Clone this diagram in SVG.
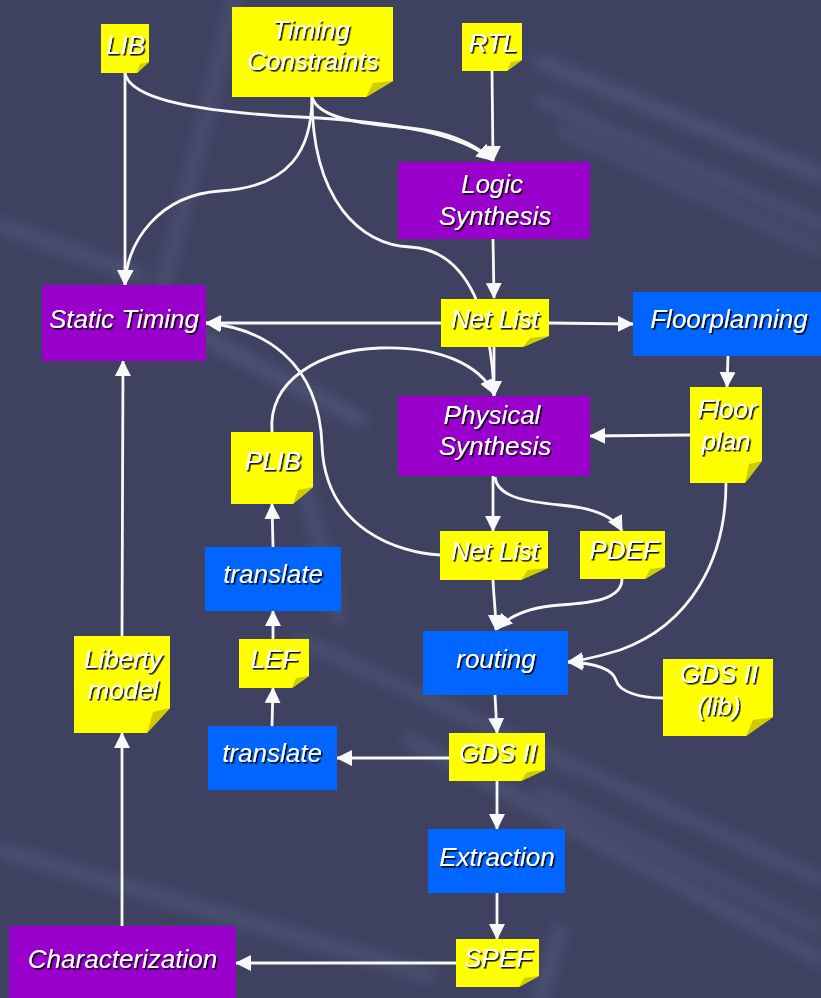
<svg xmlns="http://www.w3.org/2000/svg" width="821" height="998" viewBox="0 0 821 998">
  <defs>
    <marker id="arrow" viewBox="0 0 16 16" refX="15" refY="8" markerWidth="16" markerHeight="16" markerUnits="userSpaceOnUse" orient="auto">
      <path d="M0,0 L16,8 L0,16 z" fill="#f8f8f8"/>
    </marker>
    <filter id="shadow" x="-10%" y="-20%" width="120%" height="140%">
      <feDropShadow dx="1.6" dy="1.6" stdDeviation="0.4" flood-color="#000" flood-opacity="0.9"/>
    </filter>
    <filter id="soft" x="-20%" y="-20%" width="140%" height="140%">
      <feGaussianBlur stdDeviation="7"/>
    </filter>
  </defs>
  <style>
    .purple { fill: #9900cc; }
    .blue { fill: #0066ff; }
    .note { fill: #ffff00; }
    .fold { fill: #cccc00; }
    .label { font-family: "Liberation Sans", Arial, sans-serif; font-style: italic; font-size: 26px; fill: #ffffff; text-anchor: middle; filter: url(#shadow); }
    .edge { fill: none; stroke: #f8f8f8; stroke-width: 2.8; marker-end: url(#arrow); }
    .streak { fill: none; stroke: #8a9ac0; stroke-linecap: round; }
  </style>

  <!-- backdrop -->
  <rect x="0" y="0" width="821" height="998" fill="#3e4160"/>
  <g filter="url(#soft)" opacity="0.2">
    <path class="streak" d="M540,62 L821,175" stroke-width="16"/>
    <path class="streak" d="M540,100 L821,225" stroke-width="12"/>
    <path class="streak" d="M560,130 L821,250" stroke-width="10"/>
    <path class="streak" d="M235,0 L160,300" stroke-width="12"/>
    <path class="streak" d="M0,225 L140,275" stroke-width="14"/>
    <path class="streak" d="M200,335 L360,420" stroke-width="16"/>
    <path class="streak" d="M300,470 L340,620" stroke-width="12"/>
    <path class="streak" d="M0,850 L430,975" stroke-width="14"/>
    <path class="streak" d="M300,640 L821,880" stroke-width="12"/>
    <path class="streak" d="M410,740 L821,960" stroke-width="14"/>
    <path class="streak" d="M540,790 L821,930" stroke-width="10"/>
    <path class="streak" d="M560,930 L540,998" stroke-width="14"/>
  </g>

  <!-- connectors -->
  <g id="connectors">
    <path class="edge" d="M125,73 L125,285"/>
    <path class="edge" d="M125,73 C130,100 200,112 300,117 C400,122 462,135 492,160"/>
    <path class="edge" d="M312,97 C318,118 360,124 410,128 C450,132 476,145 492,160"/>
    <path class="edge" d="M312,97 C312,150 290,187 220,191 C160,195 127,240 125,285"/>
    <path class="edge" d="M312,97 C312,200 360,245 410,247 C470,250 492,320 494,396"/>
    <path class="edge" d="M492,71 L493,161"/>
    <path class="edge" d="M493,239 L494,298"/>
    <path class="edge" d="M441,323 L206,323"/>
    <path class="edge" d="M549,323 L633,324"/>
    <path class="edge" d="M728,356 L727,387"/>
    <path class="edge" d="M690,435 L590,436"/>
    <path class="edge" d="M494,347 L494,396"/>
    <path class="edge" d="M272,432 C268,380 320,350 380,348 C440,346 480,365 494,394"/>
    <path class="edge" d="M440,555 C400,553 325,530 322,445 C319,360 262,328 206,323"/>
    <path class="edge" d="M493,476 L493,531"/>
    <path class="edge" d="M495,477 C497,498 530,502 560,505 C595,508 615,518 622,531"/>
    <path class="edge" d="M493,580 C494,600 496,615 496,630"/>
    <path class="edge" d="M622,579 C622,600 590,603 560,605 C530,607 510,615 497,629"/>
    <path class="edge" d="M726,483 C726,560 690,625 620,650 C600,656 585,660 568,662"/>
    <path class="edge" d="M663,698 C640,698 619,692 616,680 C612,668 592,663 568,662"/>
    <path class="edge" d="M495,695 L497,733"/>
    <path class="edge" d="M449,758 L337,758"/>
    <path class="edge" d="M497,781 L497,829"/>
    <path class="edge" d="M497,893 L497,939"/>
    <path class="edge" d="M456,963 L236,963"/>
    <path class="edge" d="M122,926 L122,733"/>
    <path class="edge" d="M122,636 L123,361"/>
    <path class="edge" d="M272,726 L273,688"/>
    <path class="edge" d="M273,639 L273,611"/>
    <path class="edge" d="M273,547 L272,504"/>
  </g>

  <!-- process boxes -->
  <g id="logic-synthesis">
    <rect class="purple" x="398" y="162" width="192" height="77"/>
    <text class="label" x="492" y="193">Logic</text>
    <text class="label" x="495" y="225">Synthesis</text>
  </g>
  <g id="static-timing">
    <rect class="purple" x="42" y="285" width="164" height="76"/>
    <text class="label" x="124" y="328">Static Timing</text>
  </g>
  <g id="physical-synthesis">
    <rect class="purple" x="398" y="396" width="192" height="80"/>
    <text class="label" x="492" y="424">Physical</text>
    <text class="label" x="495" y="455">Synthesis</text>
  </g>
  <g id="characterization">
    <rect class="purple" x="9" y="926" width="227" height="72"/>
    <text class="label" x="122.5" y="968">Characterization</text>
  </g>
  <g id="floorplanning">
    <rect class="blue" x="633" y="292" width="188" height="64"/>
    <text class="label" x="729" y="328">Floorplanning</text>
  </g>
  <g id="translate-plib">
    <rect class="blue" x="205" y="547" width="136" height="64"/>
    <text class="label" x="273" y="583">translate</text>
  </g>
  <g id="translate-lef">
    <rect class="blue" x="208" y="726" width="129" height="64"/>
    <text class="label" x="272" y="762">translate</text>
  </g>
  <g id="routing">
    <rect class="blue" x="423" y="631" width="145" height="64"/>
    <text class="label" x="496" y="668">routing</text>
  </g>
  <g id="extraction">
    <rect class="blue" x="428" y="829" width="137" height="64"/>
    <text class="label" x="497" y="866">Extraction</text>
  </g>

  <!-- data notes -->
  <g id="lib">
    <polygon class="note" points="101,24 149,24 149,62 137,73 101,73"/>
    <polygon class="fold" points="137,73 140,64 149,62"/>
    <text class="label" x="125.5" y="54">LIB</text>
  </g>
  <g id="timing-constraints">
    <polygon class="note" points="232,7 393,7 393,81 366,97 232,97"/>
    <polygon class="fold" points="366,97 373,83 393,81"/>
    <text class="label" x="311" y="39">Timing</text>
    <text class="label" x="313" y="70">Constraints</text>
  </g>
  <g id="rtl">
    <polygon class="note" points="462,23 522,23 522,60 507,71 462,71"/>
    <polygon class="fold" points="507,71 511,62 522,60"/>
    <text class="label" x="493" y="52">RTL</text>
  </g>
  <g id="netlist-logic">
    <polygon class="note" points="441,299 549,299 549,336 523,347 441,347"/>
    <polygon class="fold" points="523,347 530,338 549,336"/>
    <text class="label" x="495" y="328">Net List</text>
  </g>
  <g id="floor-plan">
    <polygon class="note" points="690,387 762,387 762,461 745,483 690,483"/>
    <polygon class="fold" points="745,483 749,464 762,461"/>
    <text class="label" x="727" y="418">Floor</text>
    <text class="label" x="726" y="450">plan</text>
  </g>
  <g id="plib">
    <polygon class="note" points="231,432 313,432 313,487 293,504 231,504"/>
    <polygon class="fold" points="293,504 298,490 313,487"/>
    <text class="label" x="273" y="470">PLIB</text>
  </g>
  <g id="netlist-physical">
    <polygon class="note" points="440,531 548,531 548,568 521,580 440,580"/>
    <polygon class="fold" points="521,580 528,570 548,568"/>
    <text class="label" x="495" y="560">Net List</text>
  </g>
  <g id="pdef">
    <polygon class="note" points="580,531 665,531 665,567 645,579 580,579"/>
    <polygon class="fold" points="645,579 650,569 665,567"/>
    <text class="label" x="624" y="559">PDEF</text>
  </g>
  <g id="lef">
    <polygon class="note" points="239,639 309,639 309,676 292,688 239,688"/>
    <polygon class="fold" points="292,688 296,678 309,676"/>
    <text class="label" x="274" y="668">LEF</text>
  </g>
  <g id="liberty-model">
    <polygon class="note" points="74,636 170,636 170,708 147,733 74,733"/>
    <polygon class="fold" points="147,733 153,712 170,708"/>
    <text class="label" x="123" y="668">Liberty</text>
    <text class="label" x="123" y="699">model</text>
  </g>
  <g id="gds-lib">
    <polygon class="note" points="663,659 773,659 773,717 746,736 663,736"/>
    <polygon class="fold" points="746,736 753,720 773,717"/>
    <text class="label" x="719" y="683">GDS II</text>
    <text class="label" x="719" y="715">(lib)</text>
  </g>
  <g id="gds">
    <polygon class="note" points="449,733 545,733 545,770 521,781 449,781"/>
    <polygon class="fold" points="521,781 527,772 545,770"/>
    <text class="label" x="498" y="762">GDS II</text>
  </g>
  <g id="spef">
    <polygon class="note" points="456,939 539,939 539,976 519,987 456,987"/>
    <polygon class="fold" points="519,987 524,978 539,976"/>
    <text class="label" x="498" y="967">SPEF</text>
  </g>
</svg>
